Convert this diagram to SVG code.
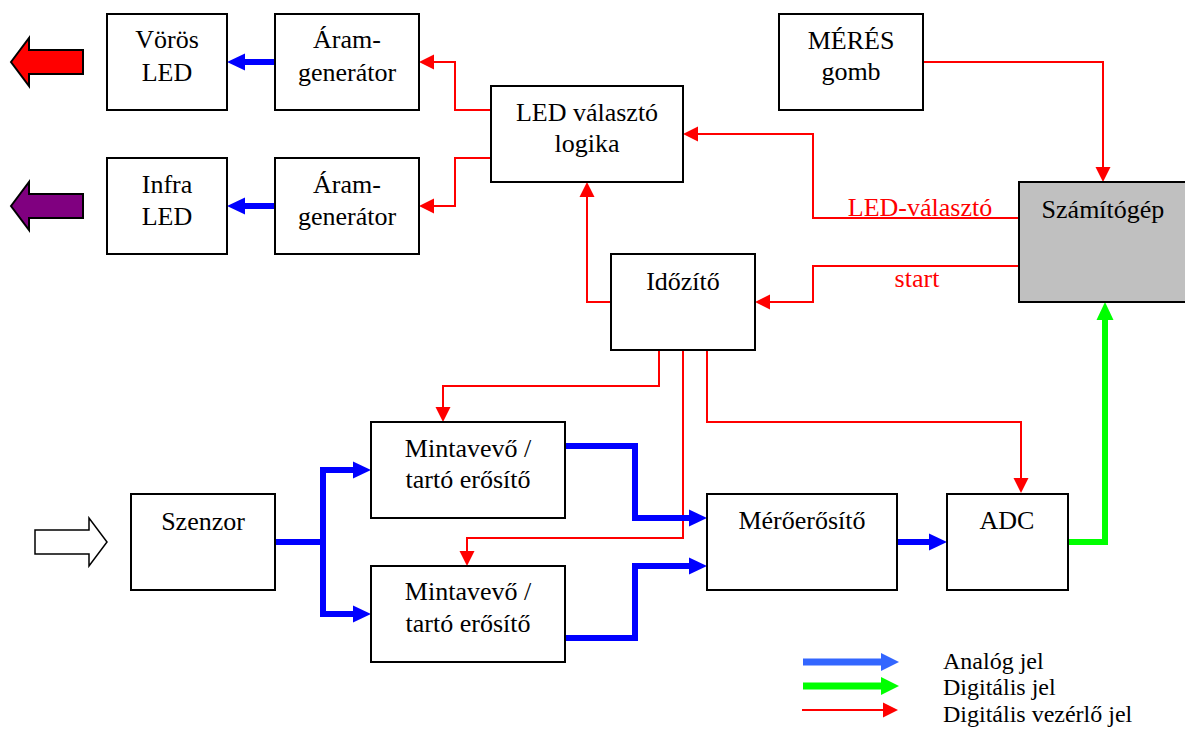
<svg xmlns="http://www.w3.org/2000/svg" width="1185" height="729" viewBox="0 0 1185 729" font-family="'Liberation Serif', 'Times New Roman', serif">
<style>
.box{fill:#fff;stroke:#000;stroke-width:2}
.t{font-size:26px;fill:#000;text-anchor:middle}
.lt{font-size:24px;fill:#000}
.lbl{font-size:26px;fill:#ff0000;text-anchor:middle}
.r{fill:none;stroke:#ff0000;stroke-width:2;marker-end:url(#mr)}
.b{fill:none;stroke:#0000ff;stroke-width:6;stroke-linejoin:miter;marker-end:url(#mb)}
.g{fill:none;stroke:#00ff00;stroke-width:6;stroke-linejoin:miter;marker-end:url(#mg)}
</style>
<defs>
<marker id="mr" markerUnits="userSpaceOnUse" markerWidth="16" markerHeight="15" refX="0" refY="7.5" orient="auto" overflow="visible"><path d="M0,0 L15,7.5 L0,15 z" fill="#ff0000"/></marker>
<marker id="mb" markerUnits="userSpaceOnUse" markerWidth="18" markerHeight="17" refX="0" refY="8.5" orient="auto" overflow="visible"><path d="M0,0 L18,8.5 L0,17 z" fill="#0000ff"/></marker>
<marker id="mg" markerUnits="userSpaceOnUse" markerWidth="18" markerHeight="17" refX="0" refY="8.5" orient="auto" overflow="visible"><path d="M0,0 L18,8.5 L0,17 z" fill="#00ff00"/></marker>
<marker id="mlb" markerUnits="userSpaceOnUse" markerWidth="18" markerHeight="18" refX="0" refY="9" orient="auto" overflow="visible"><path d="M0,0 L18,9 L0,18 z" fill="#3366ff"/></marker>
<marker id="mlg" markerUnits="userSpaceOnUse" markerWidth="18" markerHeight="18" refX="0" refY="9" orient="auto" overflow="visible"><path d="M0,0 L18,9 L0,18 z" fill="#00ff00"/></marker>
</defs>
<rect width="1185" height="729" fill="#fff"/>

<g id="connectors">
<path class="r" d="M491,110 H455 V62 H434"/>
<path class="r" d="M491,158 H455 V206 H434"/>
<path class="r" d="M1019,218 H813 V134 H698"/>
<path class="r" d="M1019,266 H813 V302 H770"/>
<path class="r" d="M611,302 H587 V197"/>
<path class="r" d="M923,62 H1103 V167"/>
<path class="r" d="M659,350 V386 H443 V407"/>
<path class="r" d="M683,350 V538 H467 V551"/>
<path class="r" d="M707,350 V422 H1021 V478"/>
<path class="b" d="M275,62 H245"/>
<path class="b" d="M275,206 H245"/>
<path class="b" d="M275,542 H323 V470 H353"/>
<path class="b" d="M323,542 V614 H353"/>
<path class="b" d="M565,446 H635 V518 H689"/>
<path class="b" d="M565,638 H635 V566 H689"/>
<path class="b" d="M897,542 H929"/>
<path class="g" d="M1068,542 H1105 V320"/>
<text class="lbl" x="920" y="216">LED-választó</text>
<text class="lbl" x="917" y="287">start</text>
</g>

<g id="out-red"><polygon points="11,62 29,38 29,50 83,50 83,74 29,74 29,86" fill="#ff0000" stroke="#000" stroke-width="2"/></g>
<g id="out-infra"><polygon points="11,206 29,182 29,194 83,194 83,218 29,218 29,230" fill="#800080" stroke="#000" stroke-width="2"/></g>
<g id="in-arrow"><polygon points="35,530 89,530 89,518 107,542 89,566 89,554 35,554" fill="#fff" stroke="#000" stroke-width="1.5"/></g>

<g id="voros-led"><rect class="box" x="107" y="14" width="120" height="96"/><text class="t" x="167" y="48">Vörös</text><text class="t" x="167" y="81">LED</text></g>
<g id="aram1"><rect class="box" x="275" y="14" width="144" height="96"/><text class="t" x="347" y="48">Áram-</text><text class="t" x="347" y="81">generátor</text></g>
<g id="infra-led"><rect class="box" x="107" y="158" width="120" height="96"/><text class="t" x="167" y="193">Infra</text><text class="t" x="167" y="225">LED</text></g>
<g id="aram2"><rect class="box" x="275" y="158" width="144" height="96"/><text class="t" x="347" y="193">Áram-</text><text class="t" x="347" y="225">generátor</text></g>
<g id="led-logika"><rect class="box" x="491" y="86" width="192" height="96"/><text class="t" x="587" y="121">LED választó</text><text class="t" x="587" y="152">logika</text></g>
<g id="meres"><rect class="box" x="779" y="14" width="144" height="96"/><text class="t" x="851" y="49">MÉRÉS</text><text class="t" x="851" y="80">gomb</text></g>
<g id="szamitogep"><rect x="1019" y="182" width="175" height="120" fill="#c0c0c0" stroke="#000" stroke-width="2"/><text class="t" x="1103" y="218">Számítógép</text></g>
<g id="idozito"><rect class="box" x="611" y="254" width="144" height="96"/><text class="t" x="683" y="290">Időzítő</text></g>
<g id="szenzor"><rect class="box" x="131" y="494" width="144" height="96"/><text class="t" x="203" y="530">Szenzor</text></g>
<g id="minta1"><rect class="box" x="371" y="422" width="194" height="96"/><text class="t" x="468" y="457">Mintavevő /</text><text class="t" x="468" y="488">tartó erősítő</text></g>
<g id="minta2"><rect class="box" x="371" y="566" width="194" height="96"/><text class="t" x="468" y="600">Mintavevő /</text><text class="t" x="468" y="632">tartó erősítő</text></g>
<g id="meroerosito"><rect class="box" x="707" y="494" width="190" height="96"/><text class="t" x="802" y="529">Mérőerősítő</text></g>
<g id="adc"><rect class="box" x="947" y="494" width="121" height="96"/><text class="t" x="1007" y="529">ADC</text></g>

<g id="legend">
<path d="M803,662 H881" stroke="#3366ff" stroke-width="7" fill="none" marker-end="url(#mlb)"/>
<path d="M803,686 H881" stroke="#00ff00" stroke-width="7" fill="none" marker-end="url(#mlg)"/>
<path d="M802,710 H883" stroke="#ff0000" stroke-width="2" fill="none" marker-end="url(#mr)"/>
<text class="lt" x="943" y="669">Analóg jel</text>
<text class="lt" x="943" y="695">Digitális jel</text>
<text class="lt" x="943" y="722">Digitális vezérlő jel</text>
</g>
</svg>
